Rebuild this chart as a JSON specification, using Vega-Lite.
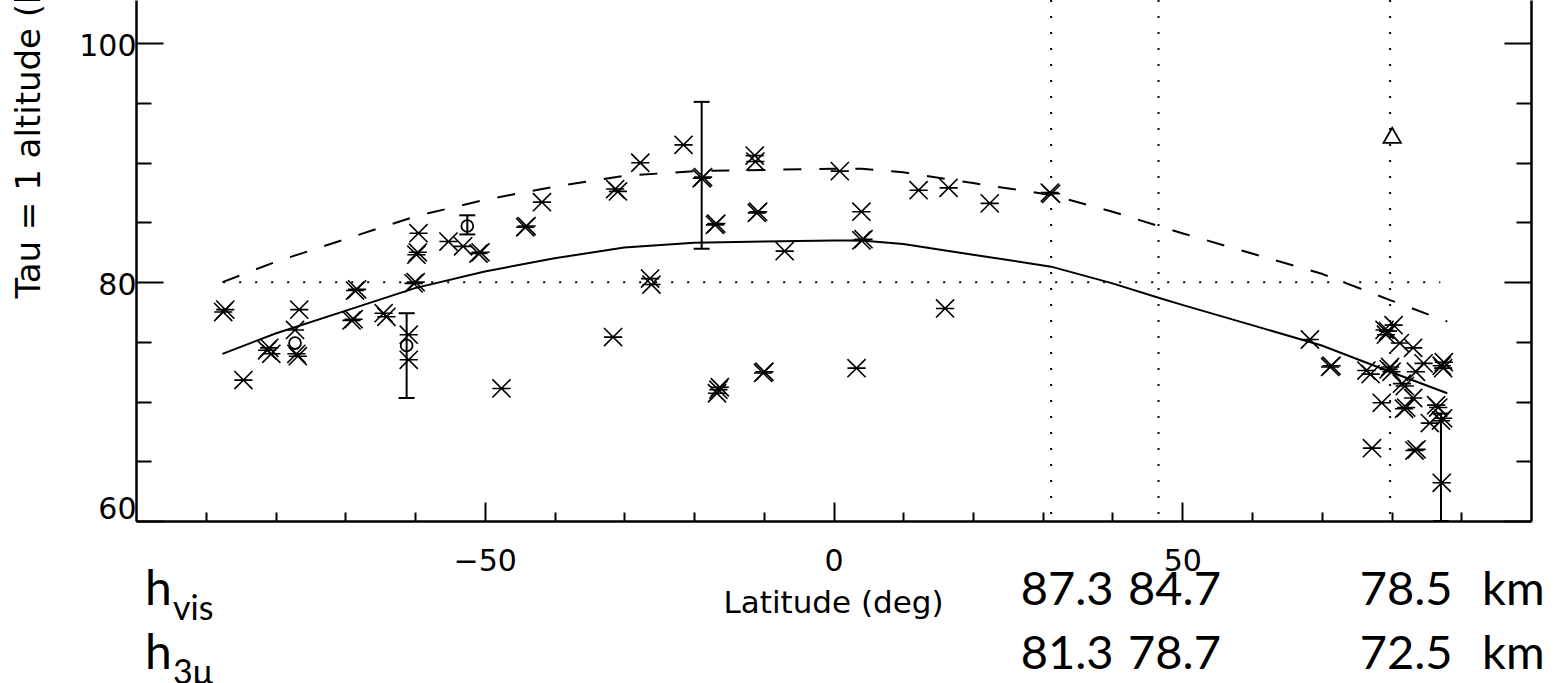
{
  "$schema": "https://vega.github.io/schema/vega-lite/v6.json",
  "width": 1395,
  "height": 521,
  "autosize": {"type": "none"},
  "padding": {"left": 136, "top": 0, "right": 24, "bottom": 162},
  "background": "white",
  "config": {
    "view": {"stroke": null},
    "axis": {
      "grid": false,
      "domainColor": "black",
      "domainWidth": 2.5,
      "tickColor": "black",
      "tickWidth": 2,
      "labelColor": "black",
      "labelFont": "DejaVu Sans",
      "labelFontSize": 30,
      "titleColor": "black",
      "titleFont": "DejaVu Sans",
      "titleFontSize": 31,
      "titleFontWeight": "normal"
    }
  },
  "datasets": {
    "curves": [
      {"lat": -87.6, "alt": 80.0, "curve": "vis"},
      {"lat": -80, "alt": 81.7, "curve": "vis"},
      {"lat": -70, "alt": 83.6, "curve": "vis"},
      {"lat": -60, "alt": 85.5, "curve": "vis"},
      {"lat": -50, "alt": 86.9, "curve": "vis"},
      {"lat": -40, "alt": 88.0, "curve": "vis"},
      {"lat": -30, "alt": 88.9, "curve": "vis"},
      {"lat": -20, "alt": 89.3, "curve": "vis"},
      {"lat": -10, "alt": 89.4, "curve": "vis"},
      {"lat": 0, "alt": 89.5, "curve": "vis"},
      {"lat": 4, "alt": 89.5, "curve": "vis"},
      {"lat": 10, "alt": 89.2, "curve": "vis"},
      {"lat": 20, "alt": 88.3, "curve": "vis"},
      {"lat": 31.2, "alt": 87.3, "curve": "vis", "tag": true},
      {"lat": 40, "alt": 85.9, "curve": "vis"},
      {"lat": 46.6, "alt": 84.7, "curve": "vis", "tag": true},
      {"lat": 50, "alt": 84.1, "curve": "vis"},
      {"lat": 60, "alt": 82.4, "curve": "vis"},
      {"lat": 70, "alt": 80.7, "curve": "vis"},
      {"lat": 79.8, "alt": 78.5, "curve": "vis", "tag": true},
      {"lat": 88, "alt": 76.7, "curve": "vis"},
      {"lat": -87.6, "alt": 74.0, "curve": "3u"},
      {"lat": -80, "alt": 75.7, "curve": "3u"},
      {"lat": -70, "alt": 77.6, "curve": "3u"},
      {"lat": -60, "alt": 79.5, "curve": "3u"},
      {"lat": -50, "alt": 80.9, "curve": "3u"},
      {"lat": -40, "alt": 82.0, "curve": "3u"},
      {"lat": -30, "alt": 82.9, "curve": "3u"},
      {"lat": -20, "alt": 83.3, "curve": "3u"},
      {"lat": -10, "alt": 83.4, "curve": "3u"},
      {"lat": 0, "alt": 83.5, "curve": "3u"},
      {"lat": 4, "alt": 83.5, "curve": "3u"},
      {"lat": 10, "alt": 83.2, "curve": "3u"},
      {"lat": 20, "alt": 82.3, "curve": "3u"},
      {"lat": 31.2, "alt": 81.3, "curve": "3u", "tag": true},
      {"lat": 40, "alt": 79.9, "curve": "3u"},
      {"lat": 46.6, "alt": 78.7, "curve": "3u", "tag": true},
      {"lat": 50, "alt": 78.1, "curve": "3u"},
      {"lat": 60, "alt": 76.4, "curve": "3u"},
      {"lat": 70, "alt": 74.7, "curve": "3u"},
      {"lat": 79.8, "alt": 72.5, "curve": "3u", "tag": true},
      {"lat": 88, "alt": 70.7, "curve": "3u"}
    ],
    "stars": [
      {"lat": -87.5, "alt": 77.5}, {"lat": -87.2, "alt": 77.7},
      {"lat": -84.6, "alt": 71.8},
      {"lat": -81.2, "alt": 74.3}, {"lat": -80.6, "alt": 74.0}, {"lat": -80.9, "alt": 74.5},
      {"lat": -76.6, "alt": 77.7},
      {"lat": -77.2, "alt": 76.0},
      {"lat": -77.0, "alt": 74.0}, {"lat": -76.8, "alt": 73.8},
      {"lat": -68.6, "alt": 79.3}, {"lat": -68.3, "alt": 79.4},
      {"lat": -69.1, "alt": 76.8}, {"lat": -68.8, "alt": 76.9},
      {"lat": -64.5, "alt": 77.4}, {"lat": -64.1, "alt": 77.1},
      {"lat": -60.2, "alt": 79.9}, {"lat": -59.9, "alt": 80.0},
      {"lat": -60.9, "alt": 75.6},
      {"lat": -60.9, "alt": 73.5},
      {"lat": -47.6, "alt": 71.1},
      {"lat": -59.5, "alt": 84.1},
      {"lat": -59.8, "alt": 82.3}, {"lat": -59.6, "alt": 82.5},
      {"lat": -55.2, "alt": 83.4},
      {"lat": -53.1, "alt": 83.0},
      {"lat": -50.9, "alt": 82.4}, {"lat": -50.6, "alt": 82.5},
      {"lat": -44.2, "alt": 84.6}, {"lat": -44.0, "alt": 84.7},
      {"lat": -41.8, "alt": 86.7},
      {"lat": -31.3, "alt": 87.8}, {"lat": -30.9, "alt": 87.6},
      {"lat": -27.7, "alt": 90.0},
      {"lat": -21.5, "alt": 91.5},
      {"lat": -18.9, "alt": 88.7}, {"lat": -18.7, "alt": 88.8},
      {"lat": -17.0, "alt": 84.8}, {"lat": -16.8, "alt": 84.9},
      {"lat": -11.3, "alt": 90.6}, {"lat": -11.2, "alt": 90.1},
      {"lat": -11.0, "alt": 85.8}, {"lat": -10.8, "alt": 85.9},
      {"lat": -7.0, "alt": 82.6},
      {"lat": 0.9, "alt": 89.3},
      {"lat": 4.0, "alt": 85.9},
      {"lat": 4.0, "alt": 83.5}, {"lat": 4.3, "alt": 83.6},
      {"lat": 12.2, "alt": 87.7},
      {"lat": 16.5, "alt": 87.9},
      {"lat": 22.4, "alt": 86.6},
      {"lat": -26.3, "alt": 80.3}, {"lat": -26.1, "alt": 79.8},
      {"lat": -31.6, "alt": 75.4},
      {"lat": -16.7, "alt": 70.7}, {"lat": -16.3, "alt": 71.2}, {"lat": -16.5, "alt": 71.0},
      {"lat": -10.1, "alt": 72.4}, {"lat": -9.9, "alt": 72.5},
      {"lat": 3.3, "alt": 72.8},
      {"lat": 16.0, "alt": 77.8},
      {"lat": 31.0, "alt": 87.5}, {"lat": 31.2, "alt": 87.4},
      {"lat": 68.3, "alt": 75.2},
      {"lat": 71.2, "alt": 72.9}, {"lat": 71.4, "alt": 73.0},
      {"lat": 76.4, "alt": 72.6}, {"lat": 77.0, "alt": 72.3},
      {"lat": 79.2, "alt": 75.6}, {"lat": 79.5, "alt": 75.9}, {"lat": 80.3, "alt": 76.4}, {"lat": 79.0, "alt": 76.0},
      {"lat": 79.6, "alt": 72.7}, {"lat": 80.0, "alt": 72.5}, {"lat": 79.8, "alt": 72.9},
      {"lat": 83.1, "alt": 74.5},
      {"lat": 84.6, "alt": 73.2},
      {"lat": 87.2, "alt": 73.0}, {"lat": 87.5, "alt": 73.3}, {"lat": 87.4, "alt": 72.8},
      {"lat": 81.5, "alt": 71.5}, {"lat": 81.9, "alt": 71.3},
      {"lat": 78.6, "alt": 69.9},
      {"lat": 81.8, "alt": 69.4}, {"lat": 82.1, "alt": 69.5},
      {"lat": 83.1, "alt": 70.3},
      {"lat": 86.4, "alt": 69.7}, {"lat": 86.7, "alt": 69.5},
      {"lat": 87.1, "alt": 68.4}, {"lat": 87.4, "alt": 68.6},
      {"lat": 85.5, "alt": 68.2},
      {"lat": 77.2, "alt": 66.1},
      {"lat": 83.3, "alt": 65.9}, {"lat": 83.6, "alt": 66.0},
      {"lat": 87.2, "alt": 63.2},
      {"lat": 81.2, "alt": 74.9},
      {"lat": 83.5, "alt": 72.5}
    ],
    "circles": [
      {"lat": -77.2, "alt": 74.9},
      {"lat": -61.2, "alt": 74.7},
      {"lat": -52.5, "alt": 84.7}
    ],
    "bars": [
      {"lat": -18.9, "lo": 82.8, "hi": 95.1},
      {"lat": -61.2, "lo": 70.3, "hi": 77.4},
      {"lat": -52.5, "lo": 84.0, "hi": 85.6},
      {"lat": 87.1, "lo": 60.0, "hi": 69.0}
    ],
    "tri": [
      {"lat": 80.1, "alt": 92.3}
    ],
    "rowlabels": [
      {"curve": "vis", "sub": "vis"},
      {"curve": "3u", "sub": "3μ"}
    ]
  },
  "layer": [
    {
      "layer": [
        {
          "data": {"name": "curves"},
          "transform": [{"filter": "datum.tag && datum.curve == 'vis'"}],
          "mark": {"type": "rule", "stroke": "black", "strokeWidth": 2, "strokeDash": [2, 14]},
          "encoding": {
            "x": {
              "field": "lat", "type": "quantitative",
              "scale": {"domain": [-100, 100], "nice": false, "zero": false},
              "axis": {
                "orient": "bottom",
                "values": [-50, 0, 50],
                "tickSize": {"expr": "-19"},
                "labelPadding": 44,
                "labelBaseline": "top",
                "title": "Latitude (deg)",
                "titleX": 697,
                "titleY": 91,
                "titleAlign": "center",
                "titleBaseline": "alphabetic"
              }
            }
          }
        },
        {
          "data": {"values": [{}]},
          "mark": {"type": "rule", "stroke": "black", "strokeWidth": 2, "strokeDash": [2, 14]},
          "encoding": {
            "x": {"datum": -87.5, "axis": null},
            "x2": {"datum": 87},
            "y": {"datum": 80, "axis": null}
          }
        },
        {
          "data": {"name": "curves"},
          "transform": [{"filter": "datum.curve == 'vis'"}],
          "mark": {"type": "line", "stroke": "black", "strokeWidth": 2, "strokeDash": [18, 18]},
          "encoding": {
            "x": {
              "field": "lat", "type": "quantitative",
              "axis": {
                "orient": "bottom",
                "values": [-90, -80, -70, -60, -40, -30, -20, -10, 10, 20, 30, 40, 60, 70, 80, 90],
                "tickSize": {"expr": "-9"},
                "labels": false,
                "domain": false,
                "title": null
              }
            },
            "y": {
              "field": "alt", "type": "quantitative",
              "scale": {"domain": [60, 103.63], "nice": false, "zero": false},
              "axis": {
                "orient": "left",
                "values": [60, 80, 100],
                "tickSize": {"expr": "-27"},
                "labelPadding": 27,
                "labelFlush": true,
                "labelOffset": 3,
                "title": "Tau = 1 altitude (km)",
                "titleFontSize": 34,
                "titleAngle": 270,
                "titleAlign": "left",
                "titleBaseline": "alphabetic",
                "titleX": -97,
                "titleY": 298
              }
            }
          }
        },
        {
          "data": {"name": "curves"},
          "transform": [{"filter": "datum.curve == '3u'"}],
          "mark": {"type": "line", "stroke": "black", "strokeWidth": 2},
          "encoding": {
            "x": {"field": "lat", "type": "quantitative", "axis": null},
            "y": {
              "field": "alt", "type": "quantitative",
              "axis": {
                "orient": "left",
                "values": [65, 70, 75, 85, 90, 95],
                "tickSize": {"expr": "-15"},
                "labels": false,
                "domain": false,
                "title": null
              }
            }
          }
        },
        {
          "data": {"name": "bars"},
          "mark": {"type": "rule", "stroke": "black", "strokeWidth": 2},
          "encoding": {
            "x": {"field": "lat", "type": "quantitative", "axis": null},
            "y": {"field": "lo", "type": "quantitative", "axis": null},
            "y2": {"field": "hi"}
          }
        },
        {
          "data": {"name": "bars"},
          "mark": {"type": "tick", "orient": "horizontal", "size": 16, "thickness": 2, "color": "black", "opacity": 1},
          "encoding": {
            "x": {"field": "lat", "type": "quantitative", "axis": null},
            "y": {"field": "lo", "type": "quantitative", "axis": null}
          }
        },
        {
          "data": {"name": "bars"},
          "mark": {"type": "tick", "orient": "horizontal", "size": 16, "thickness": 2, "color": "black", "opacity": 1},
          "encoding": {
            "x": {"field": "lat", "type": "quantitative", "axis": null},
            "y": {"field": "hi", "type": "quantitative", "axis": null}
          }
        },
        {
          "data": {"name": "stars"},
          "mark": {"type": "point", "shape": "M-1,-1L1,1M-1,1L1,-1M-1,0L1,0", "size": 330, "filled": false, "stroke": "black", "strokeWidth": 1.6, "opacity": 1},
          "encoding": {
            "x": {"field": "lat", "type": "quantitative", "axis": null},
            "y": {
              "field": "alt", "type": "quantitative",
              "axis": {
                "orient": "right",
                "values": [60, 80, 100],
                "tickSize": {"expr": "-27"},
                "labels": false,
                "title": null
              }
            }
          }
        },
        {
          "data": {"name": "circles"},
          "mark": {"type": "point", "shape": "circle", "size": 140, "filled": false, "stroke": "black", "strokeWidth": 1.8, "opacity": 1},
          "encoding": {
            "x": {"field": "lat", "type": "quantitative", "axis": null},
            "y": {
              "field": "alt", "type": "quantitative",
              "axis": {
                "orient": "right",
                "values": [65, 70, 75, 85, 90, 95],
                "tickSize": {"expr": "-15"},
                "labels": false,
                "domain": false,
                "title": null
              }
            }
          }
        },
        {
          "data": {"name": "tri"},
          "mark": {"type": "point", "shape": "triangle-up", "size": 300, "filled": false, "stroke": "black", "strokeWidth": 1.8, "opacity": 1},
          "encoding": {
            "x": {"field": "lat", "type": "quantitative", "axis": null},
            "y": {"field": "alt", "type": "quantitative", "axis": null}
          }
        }
      ],
      "resolve": {"axis": {"x": "independent", "y": "independent"}}
    },
    {
      "layer": [
        {
          "data": {"name": "curves"},
          "transform": [{"filter": "datum.tag"}],
          "mark": {"type": "text", "font": "Lato", "fontSize": 47, "align": "center", "baseline": "alphabetic", "dx": 16, "color": "black"},
          "encoding": {
            "x": {"field": "lat", "type": "quantitative", "axis": null},
            "y": {
              "field": "curve", "type": "nominal",
              "scale": {"type": "point", "domain": ["vis", "3u"], "range": [605, 669], "padding": 0},
              "axis": null
            },
            "text": {"field": "alt", "type": "quantitative", "format": ".1f"}
          }
        },
        {
          "data": {"name": "rowlabels"},
          "mark": {"type": "text", "font": "Lato", "fontSize": 48, "align": "left", "baseline": "alphabetic", "dx": 9, "color": "black"},
          "encoding": {
            "x": {"datum": -100, "axis": null},
            "y": {"field": "curve", "type": "nominal", "axis": null},
            "text": {"value": "h"}
          }
        },
        {
          "data": {"name": "rowlabels"},
          "mark": {"type": "text", "font": "Lato", "fontSize": 34, "align": "left", "baseline": "alphabetic", "dx": 37, "dy": 15, "color": "black"},
          "encoding": {
            "x": {"datum": -100, "axis": null},
            "y": {"field": "curve", "type": "nominal", "axis": null},
            "text": {"field": "sub"}
          }
        },
        {
          "data": {"name": "rowlabels"},
          "mark": {"type": "text", "font": "Lato", "fontSize": 47, "align": "left", "baseline": "alphabetic", "dx": -49, "color": "black"},
          "encoding": {
            "x": {"datum": 100, "axis": null},
            "y": {"field": "curve", "type": "nominal", "axis": null},
            "text": {"value": "km"}
          }
        }
      ]
    }
  ],
  "resolve": {
    "scale": {"y": "independent"},
    "axis": {"x": "independent", "y": "independent"}
  }
}
